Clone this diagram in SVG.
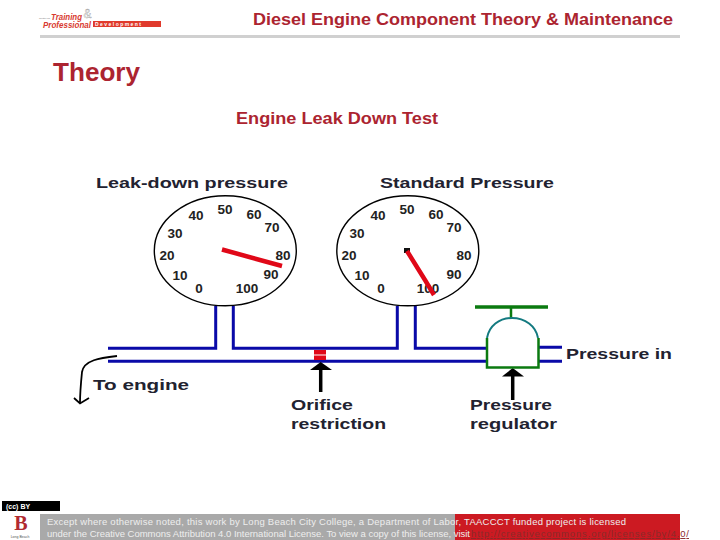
<svg xmlns="http://www.w3.org/2000/svg" width="720" height="540" viewBox="0 0 720 540">
<style>
text{font-family:"Liberation Sans",Arial,sans-serif}
.t{font-weight:bold;fill:#ac2430}
.l{font-weight:bold;font-size:15px;fill:#222230}
.n{font-size:13.5px;font-weight:bold;fill:#222;text-anchor:middle}
.g{fill:#fff;stroke:#000;stroke-width:1.4}
.p{fill:none;stroke:#0a0aa8;stroke-width:3}
.f{font-size:9.5px;fill:#eee}
.r{fill:none;stroke:#e00818;stroke-width:4.5}
</style>
<rect width="720" height="540" fill="#fff"/>
<g id="logo">
<text x="39" y="19" font-size="2.500" fill="#777">Center for</text>
<text x="51" y="20" font-size="9" font-weight="bold" font-style="italic" fill="#d83a30" textLength="31" lengthAdjust="spacingAndGlyphs">Training</text>
<text x="83.500" y="18" font-size="12" fill="none" stroke="#999" stroke-width=".4">&amp;</text>
<text x="43" y="27.500" font-size="9" font-weight="bold" font-style="italic" fill="#d83a30" textLength="48" lengthAdjust="spacingAndGlyphs">Professional</text>
<rect x="93" y="21" width="68" height="6" fill="#e03a2c"/>
<text x="95" y="26" font-size="5" font-weight="bold" fill="#fff" textLength="46">Development</text>
</g>
<rect id="header-rule" x="40" y="35" width="640" height="3" fill="#d0d0d0"/>
<text id="header" class="t" x="253" y="25" font-size="16" textLength="420" lengthAdjust="spacingAndGlyphs">Diesel Engine Component Theory &amp; Maintenance</text>
<text id="title" class="t" x="53" y="81" font-size="25" textLength="87" lengthAdjust="spacingAndGlyphs">Theory</text>
<text id="subtitle" class="t" x="236" y="124" font-size="17" textLength="202" lengthAdjust="spacingAndGlyphs">Engine Leak Down Test</text>
<g id="connectors">
<path class="p" d="M108 348.300H215.700V306M233.300 306V348.300H397.300V306M415.300 306V348.300H487M108 361.300H487M538 347.300H562M538 361.300H562"/>
<path d="M320.700 392V368" fill="none" stroke="#000" stroke-width="3.500"/>
<path d="M320.700 362L332 370H310Z" fill="#000"/>
<path d="M512.700 400V375" fill="none" stroke="#000" stroke-width="3.500"/>
<path d="M512.700 368L524 376.500H502Z" fill="#000"/>
<path d="M117 356C100 358 84 360 82 372C81 382 80 392 80 403M74 398L80 403.500L89 398" fill="none" stroke="#000" stroke-width="1.800"/>
</g>
<g id="gauge-leak-down">
<ellipse class="g" cx="225.300" cy="250.800" rx="71" ry="55"/>
<text class="n" x="196" y="220">40</text><text class="n" x="225" y="214">50</text><text class="n" x="254" y="219">60</text><text class="n" x="272" y="232">70</text><text class="n" x="283" y="260">80</text><text class="n" x="271" y="279">90</text><text class="n" x="247" y="293">100</text><text class="n" x="199" y="293">0</text><text class="n" x="180" y="280">10</text><text class="n" x="167" y="260">20</text><text class="n" x="175" y="238">30</text>
<path class="r" d="M222 249.500L282 266"/>
<text class="l" x="96" y="188" textLength="192" lengthAdjust="spacingAndGlyphs">Leak-down pressure</text>
</g>
<g id="gauge-standard">
<ellipse class="g" cx="407.800" cy="250.800" rx="71" ry="55"/>
<text class="n" x="378" y="220">40</text><text class="n" x="407" y="214">50</text><text class="n" x="436" y="219">60</text><text class="n" x="454" y="232">70</text><text class="n" x="464" y="260">80</text><text class="n" x="454" y="279">90</text><text class="n" x="428" y="293">100</text><text class="n" x="381" y="293">0</text><text class="n" x="362" y="280">10</text><text class="n" x="349" y="260">20</text><text class="n" x="357" y="238">30</text>
<rect x="404" y="248" width="6" height="5" fill="#111"/>
<path class="r" d="M407 251L425 280L434 295"/>
<text class="l" x="380" y="188" textLength="174" lengthAdjust="spacingAndGlyphs">Standard Pressure</text>
</g>
<g id="orifice">
<rect x="314" y="350" width="12" height="4.500" fill="#e00818"/>
<rect x="314" y="355.500" width="12" height="4.500" fill="#e00818"/>
<text class="l" x="291" y="410" textLength="62" lengthAdjust="spacingAndGlyphs">Orifice</text>
<text class="l" x="291" y="429" textLength="95" lengthAdjust="spacingAndGlyphs">restriction</text>
</g>
<g id="regulator">
<path d="M475 307H548" fill="none" stroke="#0b7a10" stroke-width="3.500"/>
<path d="M511 307V318" fill="none" stroke="#0b7a10" stroke-width="2.500"/>
<path d="M487 338C489 326 499 318 512 318C525 318 536 326 538 338" fill="#fff" stroke="#137a80" stroke-width="2"/>
<path d="M487 338V367.500H538.500V338" fill="none" stroke="#0b7a10" stroke-width="2.500"/>
<text class="l" x="470" y="410" textLength="82" lengthAdjust="spacingAndGlyphs">Pressure</text>
<text class="l" x="470" y="429" textLength="87" lengthAdjust="spacingAndGlyphs">regulator</text>
</g>
<text id="label-pressure-in" class="l" x="566" y="359" textLength="106" lengthAdjust="spacingAndGlyphs">Pressure in</text>
<text id="label-to-engine" class="l" x="93" y="390" textLength="96" lengthAdjust="spacingAndGlyphs">To engine</text>
<g id="footer">
<rect x="2" y="501" width="58" height="10" fill="#000"/>
<text x="6" y="509" font-size="7" font-weight="bold" fill="#fff">(cc) BY</text>
<text x="21" y="530" font-size="20" font-weight="bold" fill="#b02a30" text-anchor="middle" style="font-family:'Liberation Serif',serif">B</text>
<text x="20" y="538" font-size="3.500" fill="#555" text-anchor="middle">Long Beach</text>
<rect x="40" y="514" width="415" height="26" fill="#a9a9a9"/>
<rect x="455" y="514" width="225" height="26" fill="#cc1a22"/>
<text class="f" x="47" y="525" textLength="579">Except where otherwise noted, this work by Long Beach City College, a Department of Labor, TAACCCT funded project is licensed</text>
<text class="f" x="47" y="537" textLength="423">under the Creative Commons Attribution 4.0 International License. To view a copy of this license, visit</text>
<text x="471" y="537" font-size="9.500" fill="#8a2a2a" text-decoration="underline" textLength="218">http://creativecommons.org/licenses/by/4.0/</text>
</g>
</svg>
